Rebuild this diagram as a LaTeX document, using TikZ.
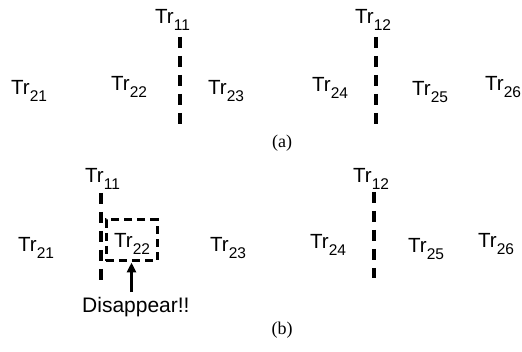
\documentclass[tikz,border=0pt]{standalone}
\usepackage{fontspec}
\setmainfont{Liberation Serif}
\setsansfont{Liberation Sans}
\usetikzlibrary{arrows.meta}

% Tr with a lowered index
\newcommand{\trx}[1]{Tr\raisebox{-6.5pt}{\fontsize{15.5}{16}\selectfont #1}}

\begin{document}
\begin{tikzpicture}[x=1pt,y=-1pt,
  lbl/.style={anchor=base west, inner sep=0pt, font=\sffamily\fontsize{20.5}{24}\selectfont},
  sub/.style={inner sep=0pt, font=\fontsize{18}{20}\selectfont},
  sep/.style={line width=3.3pt, dash pattern=on 11pt off 8pt},
  gone/.style={draw, line width=3pt, dash pattern=on 8pt off 5pt, minimum width=51pt, minimum height=41pt, inner sep=0pt},
  arr/.style={line width=3pt, -{Triangle[length=10pt,width=9pt]}}]
\useasboundingbox (0,0) rectangle (522,352);
% (a)
\node[lbl] (tra11) at (155,24) {\trx{11}};
\node[lbl] (tra12) at (355,24) {\trx{12}};
\node[lbl] (tra21) at (11,95) {\trx{21}};
\node[lbl] (tra22) at (111,91) {\trx{22}};
\node[lbl] (tra23) at (208,95) {\trx{23}};
\node[lbl] (tra24) at (312,92) {\trx{24}};
\node[lbl] (tra25) at (412,96) {\trx{25}};
\node[lbl] (tra26) at (485,91) {\trx{26}};
\coordinate (sa1t) at (180,37);  \coordinate (sa1b) at (180,124);
\coordinate (sa2t) at (376,37);  \coordinate (sa2b) at (376,125);
\draw[sep] (sa1t) -- (sa1b);
\draw[sep] (sa2t) -- (sa2b);
\node[sub] (capa) at (282,143) {(a)};
% (b)
\node[lbl] (trb11) at (85,183) {\trx{11}};
\node[lbl] (trb12) at (353,183) {\trx{12}};
\node[lbl] (trb21) at (18,252) {\trx{21}};
\node[lbl] (trb22) at (114,248) {\trx{22}};
\node[lbl] (trb23) at (210,252) {\trx{23}};
\node[lbl] (trb24) at (310,249) {\trx{24}};
\node[lbl] (trb25) at (408,253) {\trx{25}};
\node[lbl] (trb26) at (478,248) {\trx{26}};
\coordinate (sb1t) at (101,193);  \coordinate (sb1b) at (101,280);
\coordinate (sb2t) at (374,192);  \coordinate (sb2b) at (374,278);
\draw[sep] (sb1t) -- (sb1b);
\draw[sep] (sb2t) -- (sb2b);
\node[gone] (box22) at (131.5,240.5) {};
\node[lbl, font=\sffamily\fontsize{21}{24}\selectfont] (dis) at (82,312.5) {Disappear!!};
\draw[arr] ([yshift=5pt]dis.north -| box22.south) -- (box22.south);
\node[sub] (capb) at (282,330) {(b)};
\end{tikzpicture}
\end{document}
